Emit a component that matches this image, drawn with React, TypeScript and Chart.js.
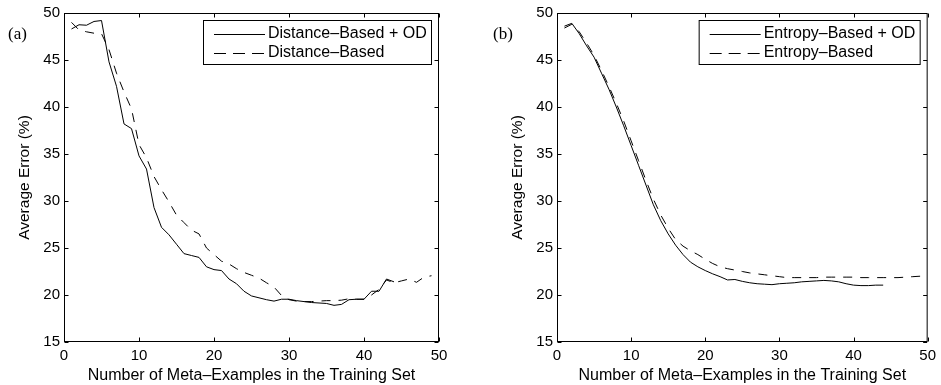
import React, { useEffect, useRef } from "react";
import { Chart, registerables } from "chart.js";

Chart.register(...registerables);

// ---------- data ----------
const xTickValues = [0, 10, 20, 30, 40, 50];
const yTickValues = [15, 20, 25, 30, 35, 40, 45, 50];
const xTitle = "Number of Meta\u2013Examples in the Training Set";
const yTitle = "Average Error (%)";

const labelsA = ["Distance\u2013Based + OD", "Distance\u2013Based"];
const labelsB = ["Entropy\u2013Based + OD", "Entropy\u2013Based"];

// x = 1..44
const distanceOD = [
  48.3, 48.75, 48.7, 49.1, 49.2, 44.8, 42.2, 38.2, 37.7, 34.8,
  33.4, 29.3, 27.2, 26.4, 25.4, 24.4, 24.2, 24.0, 23.0, 22.7,
  22.6, 21.7, 21.2, 20.4, 19.9, 19.7, 19.5, 19.35, 19.55, 19.55,
  19.4, 19.3, 19.2, 19.15, 19.1, 18.9, 19.0, 19.5, 19.55, 19.55,
  20.4, 20.4, 21.7, 21.4,
];
// x = 1..49
const distanceBase = [
  49.0, 48.2, 48.0, 47.85, 47.8, 46.1, 43.6, 41.6, 39.8, 36.0,
  34.6, 32.6, 31.2, 29.9, 28.5, 27.7, 26.9, 26.5, 25.0, 24.3,
  23.6, 23.3, 22.8, 22.4, 22.1, 21.8, 21.3, 20.85, 19.95, 19.5,
  19.35, 19.3, 19.3, 19.35, 19.4, 19.4, 19.45, 19.6, 19.55, 19.55,
  20.0, 20.6, 21.6, 21.3, 21.5, 21.7, 21.35, 21.9, 22.05,
];
// x = 1..44
const entropyOD = [
  48.6, 48.9, 47.8, 46.5, 45.3, 43.6, 41.9, 40.0, 38.0, 35.9,
  33.8, 31.7, 29.6, 27.9, 26.5, 25.3, 24.3, 23.5, 23.0, 22.6,
  22.25, 21.95, 21.6, 21.65, 21.45, 21.3, 21.2, 21.15, 21.1, 21.2,
  21.25, 21.3, 21.4, 21.45, 21.5, 21.55, 21.5, 21.4, 21.2, 21.05,
  21.0, 21.0, 21.05, 21.05,
];
// x = 1..49
const entropyBase = [
  48.4, 48.8, 48.0, 46.8, 45.5, 43.9, 42.2, 40.4, 38.5, 36.4,
  34.3, 32.2, 30.2, 28.5, 27.1, 25.9, 25.2, 24.7, 24.3, 23.8,
  23.35, 23.0, 22.8, 22.65, 22.5, 22.35, 22.25, 22.15, 22.05, 21.95,
  21.85, 21.85, 21.85, 21.85, 21.85, 21.9, 21.9, 21.9, 21.9, 21.9,
  21.85, 21.85, 21.85, 21.85, 21.85, 21.85, 21.9, 21.95, 22.0,
];

const SANS = '"Liberation Sans", Arial, Helvetica, sans-serif';
const SERIF = '"Liberation Serif", "Times New Roman", serif';

const toPoints = (arr: number[]) => arr.map((v, i) => ({ x: i + 1, y: v }));

const matlabPlugin = {
  id: "matlab",
  afterDraw(chart: any, _args: any, opts: any) {
    const { ctx, chartArea } = chart;
    const { left, right, top, bottom } = chartArea;
    const xs = chart.scales.x;
    const ys = chart.scales.y;
    ctx.save();
    ctx.strokeStyle = "#000";
    ctx.lineWidth = 1;
    ctx.setLineDash([]);
    const L = left + 0.5;
    const R = right - 0.5;
    const T = top + 0.5;
    const B = bottom - 0.5;
    ctx.strokeRect(L, T, R - L, B - T);
    const tl = 4;
    ctx.beginPath();
    xs.ticks.forEach((t: any) => {
      const p = Math.round(xs.getPixelForValue(t.value)) + 0.5;
      ctx.moveTo(p, B);
      ctx.lineTo(p, B - tl);
      ctx.moveTo(p, T);
      ctx.lineTo(p, T + tl);
    });
    ys.ticks.forEach((t: any) => {
      const p = Math.round(ys.getPixelForValue(t.value)) + 0.5;
      ctx.moveTo(L, p);
      ctx.lineTo(L + tl, p);
      ctx.moveTo(R, p);
      ctx.lineTo(R - tl, p);
    });
    ctx.stroke();

    // legend
    ctx.font = `16px ${SANS}`;
    const items = chart.data.datasets.map((d: any, i: number) => ({
      label: d.label,
      dash: opts.legendDash[i],
    }));
    const maxW = Math.max(...items.map((it: any) => ctx.measureText(it.label).width));
    const boxW = Math.round(65 + maxW + 4);
    const boxR = right - 8;
    const boxL = boxR - boxW;
    const boxT = top + 7;
    const boxH = 44;
    ctx.fillStyle = "#fff";
    ctx.fillRect(boxL, boxT, boxW, boxH);
    ctx.strokeRect(boxL + 0.5, boxT + 0.5, boxW, boxH);
    items.forEach((it: any, i: number) => {
      const yy = boxT + 14.5 + i * 19;
      ctx.beginPath();
      ctx.setLineDash(it.dash);
      ctx.moveTo(boxL + 11, yy);
      ctx.lineTo(boxL + 62, yy);
      ctx.stroke();
      ctx.setLineDash([]);
      ctx.fillStyle = "#000";
      ctx.textBaseline = "middle";
      ctx.textAlign = "left";
      ctx.fillText(it.label, boxL + 65, yy - 0.5);
    });

    // panel label
    ctx.font = `17px ${SERIF}`;
    ctx.textBaseline = "alphabetic";
    ctx.fillStyle = "#000";
    ctx.fillText(opts.panelLabel, opts.panelLabelX, 39);
    ctx.restore();
  },
};

interface PanelProps {
  left: number;
  width: number;
  padLeft: number;
  padRight: number;
  solid: number[];
  dashed: number[];
  labels: string[];
  panelLabel: string;
  panelLabelX: number;
}

function Panel(props: PanelProps) {
  const ref = useRef<HTMLCanvasElement | null>(null);
  useEffect(() => {
    if (!ref.current) return;
    const tickFont = { family: SANS, size: 15 };
    const chart = new Chart(ref.current, {
      type: "line",
      data: {
        datasets: [
          {
            label: props.labels[0],
            data: toPoints(props.solid),
            borderColor: "#000",
            borderWidth: 1,
            pointRadius: 0,
            tension: 0,
            fill: false,
          },
          {
            label: props.labels[1],
            data: toPoints(props.dashed),
            borderColor: "#000",
            borderWidth: 1,
            borderDash: [9, 8],
            pointRadius: 0,
            tension: 0,
            fill: false,
          },
        ],
      },
      options: {
        animation: false,
        responsive: false,
        layout: { padding: { left: props.padLeft, right: props.padRight, top: 11, bottom: 0 } },
        plugins: {
          legend: { display: false },
          tooltip: { enabled: false },
          matlab: {
            legendDash: [[], [12, 7]],
            panelLabel: props.panelLabel,
            panelLabelX: props.panelLabelX,
          },
        } as any,
        scales: {
          x: {
            type: "linear",
            min: 0,
            max: 50,
            afterBuildTicks: (s: any) => {
              s.ticks = xTickValues.map((v) => ({ value: v }));
            },
            grid: { display: false, drawTicks: false },
            border: { display: false },
            ticks: { font: tickFont, color: "#000", padding: 5, maxRotation: 0, autoSkip: false },
            title: {
              display: true,
              text: xTitle,
              color: "#000",
              font: { family: SANS, size: 16 },
              padding: { top: 0, bottom: 0 },
            },
            afterFit: (s: any) => {
              s.height = 43;
            },
          },
          y: {
            type: "linear",
            min: 15,
            max: 50,
            afterBuildTicks: (s: any) => {
              s.ticks = yTickValues.map((v) => ({ value: v }));
            },
            grid: { display: false, drawTicks: false },
            border: { display: false },
            ticks: { font: tickFont, color: "#000", padding: 4, autoSkip: false },
            title: {
              display: true,
              text: yTitle,
              color: "#000",
              font: { family: SANS, size: 15.5 },
              padding: { top: 15.4, bottom: 0 },
            },
            afterFit: (s: any) => {
              s.width = 64;
            },
          },
        },
      } as any,
      plugins: [matlabPlugin],
    });
    return () => chart.destroy();
  }, []);
  return (
    <canvas
      ref={ref}
      width={props.width}
      height={385}
      style={{ position: "absolute", left: props.left, top: 0, width: props.width, height: 385 }}
    />
  );
}

export default function App() {
  return (
    <div style={{ position: "absolute", left: 0, top: 0, width: 941, height: 385, background: "#fff" }}>
      <Panel
        left={0}
        width={470}
        padLeft={0}
        padRight={31}
        solid={distanceOD}
        dashed={distanceBase}
        labels={labelsA}
        panelLabel="(a)"
        panelLabelX={8}
      />
      <Panel
        left={470}
        width={471}
        padLeft={23}
        padRight={11}
        solid={entropyOD}
        dashed={entropyBase}
        labels={labelsB}
        panelLabel="(b)"
        panelLabelX={23}
      />
    </div>
  );
}
